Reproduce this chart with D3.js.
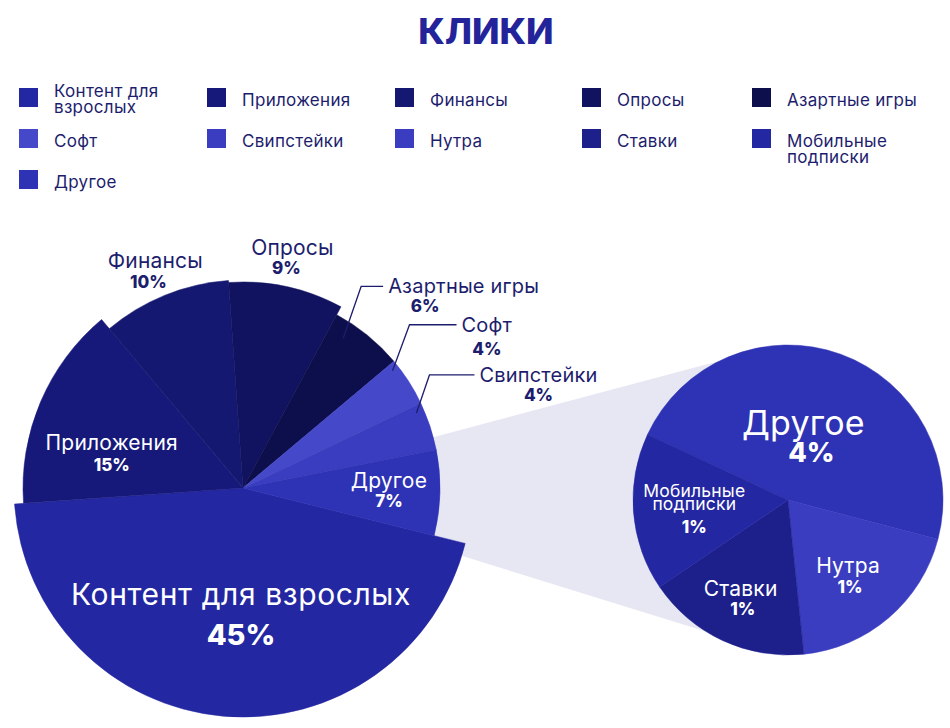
<!DOCTYPE html>
<html><head><meta charset="utf-8">
<script src="https://cdn.jsdelivr.net/npm/d3@7/dist/d3.min.js"></script>
<style>
html,body{margin:0;padding:0;background:#fff;}
svg{display:block;font-family:Inter,"Noto Sans",sans-serif;}
</style></head><body>
<svg id="chart" width="950" height="728"></svg>
<script>
// ---------- DATA ----------
const chartTitle = "КЛИКИ";
const mainCategories = ["Контент для взрослых","Приложения","Финансы","Опросы","Азартные игры","Софт","Свипстейки","Другое"];
const mainValues = [45,15,10,9,6,4,4,7];
const mainPctLabels = ["45%","15%","10%","9%","6%","4%","4%","7%"];
const otherCategories = ["Другое","Нутра","Ставки","Мобильные подписки"];
const otherValues = [3.3,1.35,1.2,1.15];
const otherPctLabels = ["4%","1%","1%","1%"];
const legendCategories = ["Контент для взрослых","Приложения","Финансы","Опросы","Азартные игры",
  "Софт","Свипстейки","Нутра","Ставки","Мобильные подписки","Другое"];

// ---------- STYLE / LAYOUT ----------
const colors = {
  "Контент для взрослых":"#2427a2","Приложения":"#17197a","Финансы":"#151870","Опросы":"#111360",
  "Азартные игры":"#0d0e4c","Софт":"#4548c9","Свипстейки":"#3a3dbf","Другое":"#2e32b4",
  "Нутра":"#3a3dc0","Ставки":"#1d1f8b","Мобильные подписки":"#2427a2"
};
const navy = "#1d1d6d";
const rad = d => d*Math.PI/180;
const mainGeo = {cx:243, cy:488, start:104, radii:[229,220,208,206,197,197,197,197]};
const otherGeo = {cx:788, cy:500, r:155, start:295};
const bandAngles = [334, 212];

const svg = d3.select("#chart");
const polar = (cx,cy,r,a) => [cx + r*Math.sin(a), cy - r*Math.cos(a)];

// title
svg.append("text").attr("x",486).attr("y",44).attr("text-anchor","middle")
  .attr("font-size",36).attr("font-weight",800).attr("fill","#23239a").text(chartTitle);

// legend
const colX = [19,207,395,582,752], rowY = [88,129,170];
const legendLines = {"Контент для взрослых":["Контент для","взрослых"],"Мобильные подписки":["Мобильные","подписки"]};
const legendFirstBase = {"Контент для взрослых":9};
const lg = svg.append("g");
legendCategories.forEach((c,i)=>{
  const x = colX[i%5], y = rowY[Math.floor(i/5)];
  lg.append("rect").attr("x",x).attr("y",y).attr("width",19).attr("height",19).attr("fill",colors[c]);
  const lines = legendLines[c] || [c];
  const b0 = legendFirstBase[c] !== undefined ? legendFirstBase[c] : 18;
  lines.forEach((l,k)=> lg.append("text").attr("x",x+35).attr("y",y+b0+k*16)
    .attr("font-size",17).attr("letter-spacing",0.3).attr("fill",navy).text(l));
});

// pies
const mainPie = d3.pie().sort(null).value(d=>d).startAngle(rad(mainGeo.start)).endAngle(rad(mainGeo.start+360));
const mainArcs = mainPie(mainValues);
const otherPie = d3.pie().sort(null).value(d=>d).startAngle(rad(otherGeo.start)).endAngle(rad(otherGeo.start+360));
const otherArcs = otherPie(otherValues);

// connecting band (Другое -> breakdown)
const b1 = polar(otherGeo.cx,otherGeo.cy,otherGeo.r,rad(bandAngles[0]));
const b2 = polar(otherGeo.cx,otherGeo.cy,otherGeo.r,rad(bandAngles[1]));
svg.append("path").attr("d",d3.line()([[mainGeo.cx,mainGeo.cy],b1,b2])).attr("fill","#e7e7f4");

const mainArc = d3.arc().innerRadius(0).outerRadius(d=>mainGeo.radii[d.index]);
svg.append("g").attr("transform",`translate(${mainGeo.cx},${mainGeo.cy})`)
  .selectAll("path").data(mainArcs).join("path")
  .attr("d",mainArc).attr("fill",d=>colors[mainCategories[d.index]])
  .attr("stroke",d=>colors[mainCategories[d.index]]).attr("stroke-width",0.5).attr("stroke-linejoin","round");

const otherArc = d3.arc().innerRadius(0).outerRadius(otherGeo.r);
svg.append("g").attr("transform",`translate(${otherGeo.cx},${otherGeo.cy})`)
  .selectAll("path").data(otherArcs).join("path")
  .attr("d",otherArc).attr("fill",d=>colors[otherCategories[d.index]])
  .attr("stroke",d=>colors[otherCategories[d.index]]).attr("stroke-width",0.5).attr("stroke-linejoin","round");

// ---------- LABELS ----------
function block(x, y, lines, pct, o){
  const g = svg.append("g");
  let w = 0;
  lines.forEach((l,k)=>{
    const t = g.append("text").attr("x",x).attr("y",y+k*(o.lh||0)).attr("text-anchor",o.anchor||"middle")
      .attr("font-size",o.fs).attr("letter-spacing",o.ls||0.2).attr("fill",o.color).text(l);
    if(k===0) w = t.node().getComputedTextLength();
  });
  let px = x;
  if(o.anchor==="start"){ px = o.pctDx!==undefined ? x+o.pctDx : x + w/2; }
  g.append("text").attr("x",px+(o.pdx||0)).attr("y",y+(lines.length-1)*(o.lh||0)+o.gap)
    .attr("text-anchor","middle").attr("font-size",o.pfs).attr("font-weight",800).attr("fill",o.color).text(pct);
}
const mid = d => (d.startAngle+d.endAngle)/2;

const mainLabelSpec = [
  {type:"in", r:126, dx:9, dy:-9, fs:30, pfs:29, gap:40, ls:0.6, lines:["Контент для взрослых"]},
  {type:"in", r:135, dx:-7, dy:15, fs:21, pfs:17, gap:21},
  {type:"out", r:234, dx:0, dy:-3, fs:21, pfs:17, gap:20, pdx:-7},
  {type:"out", r:234, dx:0, dy:-4, fs:21, pfs:17, gap:19, pdx:-6},
  {type:"lead", a:-5.4, r:180, ex:18, ey:-52, len:22, fs:20, pfs:17, gap:19, pctDx:37},
  {type:"lead", a:-5.3, r:190, ex:17, ey:-46, len:47, fs:20, pfs:17, gap:23},
  {type:"lead", a:-5.0, r:189, ex:13, ey:-38, len:45, fs:20, pfs:17, gap:19},
  {type:"in", r:146, dx:0, dy:-4, fs:21, pfs:17, gap:19}
];
mainArcs.forEach(d=>{
  const s = mainLabelSpec[d.index], name = mainCategories[d.index];
  const lines = s.lines || [name];
  if(s.type==="lead"){
    const p0 = polar(mainGeo.cx,mainGeo.cy,s.r,mid(d)+rad(s.a));
    const p1 = [p0[0]+s.ex, p0[1]+s.ey], p2 = [p1[0]+s.len, p1[1]];
    svg.append("path").attr("d",d3.line()([p0,p1,p2])).attr("fill","none").attr("stroke",navy).attr("stroke-width",1.3);
    block(p2[0]+5, p2[1]+7, lines, mainPctLabels[d.index], {anchor:"start", fs:s.fs, pfs:s.pfs, gap:s.gap, color:navy, pctDx:s.pctDx});
  } else {
    const p = polar(mainGeo.cx,mainGeo.cy,s.r,mid(d));
    block(p[0]+s.dx, p[1]+s.dy, lines, mainPctLabels[d.index],
      {fs:s.fs, pfs:s.pfs, gap:s.gap, pdx:s.pdx, ls:s.ls, color: s.type==="in" ? "#ffffff" : navy});
  }
});

const otherLabelSpec = [
  {r:72, dx:-9, dy:3, fs:34, pfs:27, gap:27, pdx:8},
  {r:100, dx:-5, dy:-3, fs:21, pfs:17, gap:20, pdx:2},
  {r:112, dx:0, dy:-6, fs:21, pfs:17, gap:19, pdx:2},
  {r:94, dx:0, dy:-10, fs:17.5, pfs:17, gap:23, lh:13, lines:["Мобильные","подписки"]}
];
otherArcs.forEach(d=>{
  const s = otherLabelSpec[d.index];
  const p = polar(otherGeo.cx,otherGeo.cy,s.r,mid(d));
  block(p[0]+s.dx, p[1]+s.dy, s.lines || [otherCategories[d.index]], otherPctLabels[d.index],
    {fs:s.fs, pfs:s.pfs, gap:s.gap, pdx:s.pdx, lh:s.lh, color:"#ffffff"});
});
</script></body></html>
